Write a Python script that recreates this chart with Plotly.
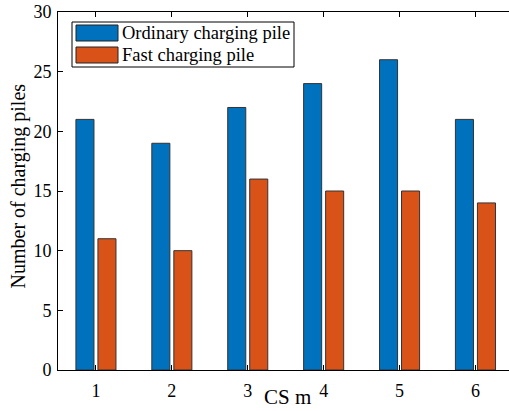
import plotly.graph_objects as go

stations = [1, 2, 3, 4, 5, 6]
ordinary = [21, 19, 22, 24, 26, 21]
fast = [11, 10, 16, 15, 15, 14]
series_names = ["Ordinary charging pile", "Fast charging pile"]
colors = ["#0072BD", "#D95319"]
y_ticks = [0, 5, 10, 15, 20, 25, 30]

FONT = "Liberation Serif, Times New Roman, serif"
W, H = 509, 411
ML, MR, MT, MB = 58, 0, 12, 41
pw = W - ML - MR
ph = H - MT - MB

fig = go.Figure()
for name, vals, col in zip(series_names, [ordinary, fast], colors):
    fig.add_trace(go.Bar(
        x=stations, y=vals, name=name,
        marker=dict(color=col, line=dict(color="#333333", width=1)),
        showlegend=False,
    ))

x_lo = 0.5
x_hi = 0.5 + pw / 75.9

fig.update_layout(
    width=W, height=H,
    margin=dict(l=ML, r=MR, t=MT, b=MB),
    paper_bgcolor="white", plot_bgcolor="white",
    barmode="group", bargap=0.42, bargroupgap=0.18,
    font=dict(family=FONT, size=18, color="#000000"),
    xaxis=dict(
        range=[x_lo, x_hi], tickvals=stations, ticktext=[str(s) for s in stations],
        ticks="inside", ticklen=5, tickcolor="#000", tickwidth=1,
        showline=True, linecolor="#000", linewidth=1, mirror="ticks",
        showgrid=False, zeroline=False, ticklabelstandoff=4,
        tickfont=dict(family=FONT, size=18),
    ),
    yaxis=dict(
        range=[0, 30], tickvals=y_ticks,
        ticks="inside", ticklen=5, tickcolor="#000", tickwidth=1,
        showline=True, linecolor="#000", linewidth=1, mirror=False,
        showgrid=False, zeroline=False, ticklabelstandoff=2,
        tickfont=dict(family=FONT, size=18),
    ),
    yaxis2=dict(
        overlaying="y", side="right", range=[0, 30], tickvals=y_ticks,
        ticks="inside", ticklen=5, tickcolor="#000", tickwidth=1,
        showticklabels=False, showline=False, showgrid=False, zeroline=False,
    ),
)

# axis titles
fig.add_annotation(
    text="CS m", xref="paper", yref="paper",
    x=(287.5 - ML) / pw, y=(MT + ph - 397) / ph,
    xanchor="center", yanchor="middle", showarrow=False,
    font=dict(family=FONT, size=21),
)
fig.add_annotation(
    text="Number of charging piles", xref="paper", yref="paper",
    x=(18 - ML) / pw, y=(MT + ph - 186.5) / ph, textangle=-90,
    xanchor="center", yanchor="middle", showarrow=False,
    font=dict(family=FONT, size=20),
)

# legend box drawn in paper coordinates
def px_x(v):
    return (v - ML) / pw

def px_y(v):
    return (MT + ph - v) / ph

fig.add_shape(type="rect", xref="paper", yref="paper",
              x0=px_x(72), x1=px_x(294), y0=px_y(67), y1=px_y(22),
              line=dict(color="#000", width=1), fillcolor="white")
row_centers = [33, 55]
for name, col, yc in zip(series_names, colors, row_centers):
    fig.add_shape(type="rect", xref="paper", yref="paper",
                  x0=px_x(76), x1=px_x(118), y0=px_y(yc + 8), y1=px_y(yc - 8),
                  line=dict(color="#222", width=1), fillcolor=col)
    fig.add_annotation(text=name, xref="paper", yref="paper",
                       x=px_x(120), y=px_y(yc), xanchor="left", yanchor="middle",
                       showarrow=False, font=dict(family=FONT, size=18.5))

fig.write_html("out.html")
